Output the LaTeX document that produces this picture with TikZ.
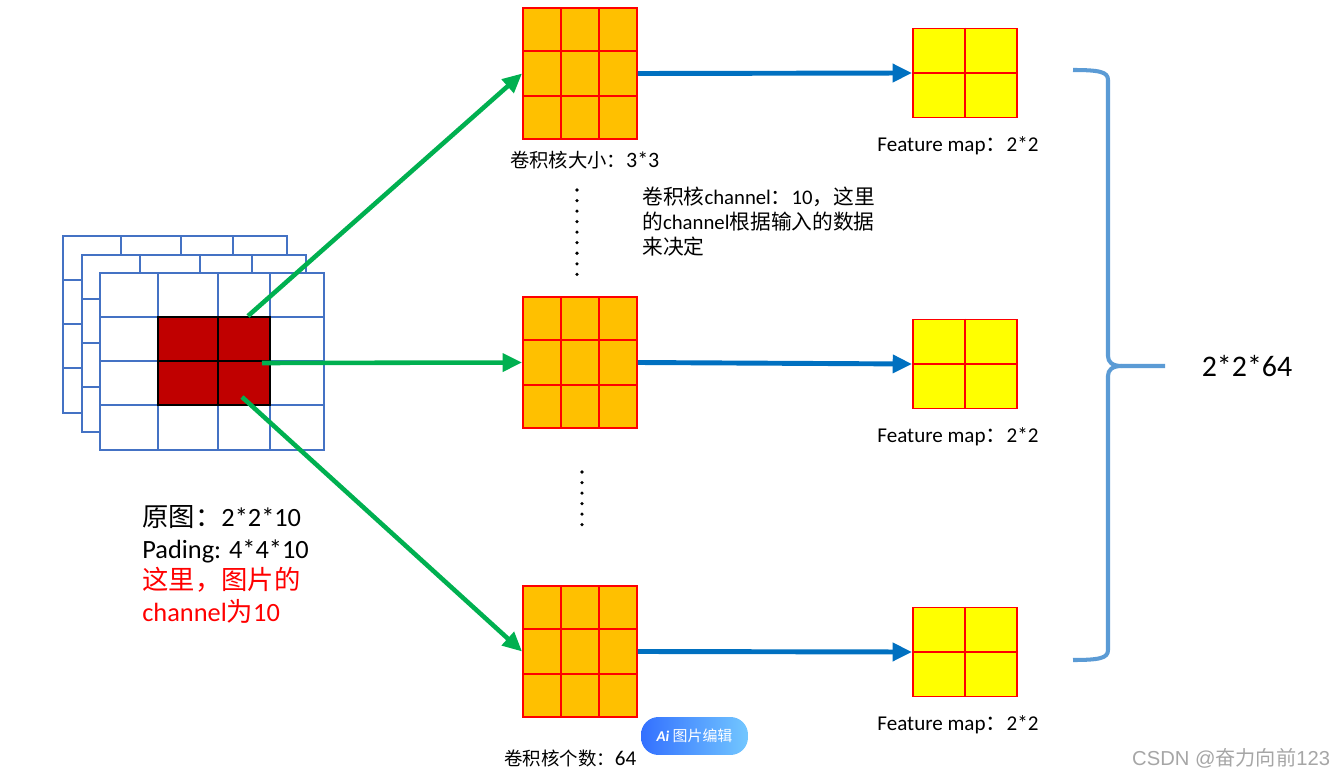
\documentclass[tikz,border=0pt]{standalone}
\usepackage{fontspec}
\setmainfont{Carlito}
\newfontfamily\cjk{Noto Sans CJK SC}
\newfontfamily\wmfont{Liberation Sans}
\usetikzlibrary{calc}
\usetikzlibrary{arrows.meta}
\usetikzlibrary{positioning}
\newcommand{\zh}[1]{{\cjk #1}}
\definecolor{gridblue}{HTML}{4472C4}
\definecolor{patchred}{HTML}{C00000}
\definecolor{kernorange}{HTML}{FFC000}
\definecolor{mapyellow}{HTML}{FFFF00}
\definecolor{cellred}{HTML}{FF0000}
\definecolor{arrgreen}{HTML}{00B050}
\definecolor{arrblue}{HTML}{0070C0}
\definecolor{bracblue}{HTML}{5B9BD5}

\begin{document}
\begin{tikzpicture}[x=0.02cm,y=-0.02cm,
    kern/.style={draw=cellred,fill=kernorange,line width=1.1pt,minimum width=2.28cm,minimum height=2.62cm,inner sep=0pt},
    fmap/.style={draw=cellred,fill=mapyellow,line width=1.1pt,minimum width=2.08cm,minimum height=1.78cm,inner sep=0pt},
    cell/.style={draw=cellred,line width=1.2pt},
    garrow/.style={draw=arrgreen,line width=2.6pt,-{Triangle[length=11pt,width=10pt]}},
    barrow/.style={draw=arrblue,line width=2.8pt,-{Triangle[length=11pt,width=10pt]}},
    grid/.style={gridblue,line width=0.9pt}]
            \useasboundingbox (0,0) rectangle (1330,777);
            % input picture, with two channels behind it
            \foreach \d in {37,18,0} {
                \begin{scope}[shift={(-\d,-\d)}]
                    \filldraw[grid,fill=white] (100,273) rectangle (324,450);
                    \foreach \x in {158,218,270}
                        \draw[grid] (\x,273) -- (\x,450);
                    \foreach \y in {361,405}
                        \draw[grid] (100,\y) -- (324,\y);
                    \draw[gridblue,line width=1.6pt] (100,317) -- (324,317);
                \end{scope}
            }
            \node[draw=black,fill=patchred,line width=0.9pt,minimum width=2.24cm,minimum height=1.76cm,inner sep=0pt] (patch) at (214,361) {};
            \draw[line width=0.9pt] ($(patch.north)+(4,0)$) -- ($(patch.south)+(4,0)$) (patch.west) -- (patch.east);
            \coordinate (g1) at (248,316);
            \coordinate (g2) at (262,363);
            \coordinate (g3) at (242,397);
            % kernels and feature maps
            \foreach \n/\y in {1/73.5,2/362.5,3/651.5} {
                \node[kern] (k\n) at (580,\y) {};
                \foreach \i in {1,2} {
                    \draw[cell] ($(k\n.north west)!\i/3!(k\n.north east)$) -- ($(k\n.south west)!\i/3!(k\n.south east)$);
                    \draw[cell] ($(k\n.north west)!\i/3!(k\n.south west)$) -- ($(k\n.north east)!\i/3!(k\n.south east)$);
                }
            }
            \foreach \n/\y in {1/73,2/364,3/652} {
                \node[fmap] (f\n) at (965,\y) {};
                \draw[cell] (f\n.north) -- (f\n.south);
                \draw[cell] (f\n.west) -- (f\n.east);
                \node[font=\fontsize{12}{14}\selectfont] (fl\n) at (958,{\y+72.5}) {Feature map\zh{：}2*2};
                \draw[barrow] (k\n.east) -- (f\n.west);
                \draw[garrow] (g\n) -- (k\n.west);
            }
            % dots between the kernels
            \draw[line width=2pt,line cap=round,dash pattern=on 0pt off 6pt] (577,190) -- (577,276);
            \draw[line width=2pt,line cap=round,dash pattern=on 0pt off 6pt] (582,472) -- (582,530);
            % brace
            \draw[bracblue,line width=2.3pt] (1073,70) .. controls (1100,70) and (1108,72) .. (1108,80) -- (1108,356)
                .. controls (1108,362) and (1112,366) .. (1122,366) -- (1165,366);
            \draw[bracblue,line width=2.3pt] (1122,366) .. controls (1112,366) and (1108,370) .. (1108,376) -- (1108,650)
                .. controls (1108,658) and (1100,660) .. (1073,660);
            \node[font=\fontsize{17}{20}\selectfont] (total) at (1247,366) {2*2*64};
            % texts
            \node[anchor=west,font=\fontsize{12.5}{14}\selectfont] (ksize) at (504,160) {{\cjk\fontsize{11}{14}\selectfont 卷积核大小：}3*3};
            \node[anchor=west,font=\fontsize{12}{14}\selectfont] (knum) at (498,758) {{\cjk\fontsize{10.5}{14}\selectfont 卷积核个数：}64};
            \node[anchor=north west,align=left,inner sep=0pt,font=\fontsize{11.8}{14.2}\selectfont] (kch) at (642,187)
                {\zh{卷积核}channel\zh{：}10\zh{，这里}\\\zh{的}channel\zh{根据输入的数据}\\\zh{来决定}};
            \node[anchor=north west,align=left,inner sep=0pt,font=\fontsize{15}{18.1}\selectfont] (src) at (142,505)
                {\zh{原图：}2*2*10\\Pading: 4*4*10\\\textcolor{red}{\zh{这里，图片的}}\\\textcolor{red}{channel\zh{为}10}};
            % overlay and watermark
            \node[rounded corners=10pt,left color=blue!70!cyan!80,right color=cyan!60!blue!55,minimum width=2.14cm,minimum height=0.76cm,text=white,font=\fontsize{8.5}{10}\selectfont] (badge) at (694.5,736) {\textbf{\textit{Ai}} \zh{图片编辑}};
            \node[anchor=west,text=gray!70,font=\wmfont\fontsize{11.5}{13}\selectfont] (wm) at (1126,758) {CSDN @\zh{奋力向前}123};
        \end{tikzpicture}
\end{document}
